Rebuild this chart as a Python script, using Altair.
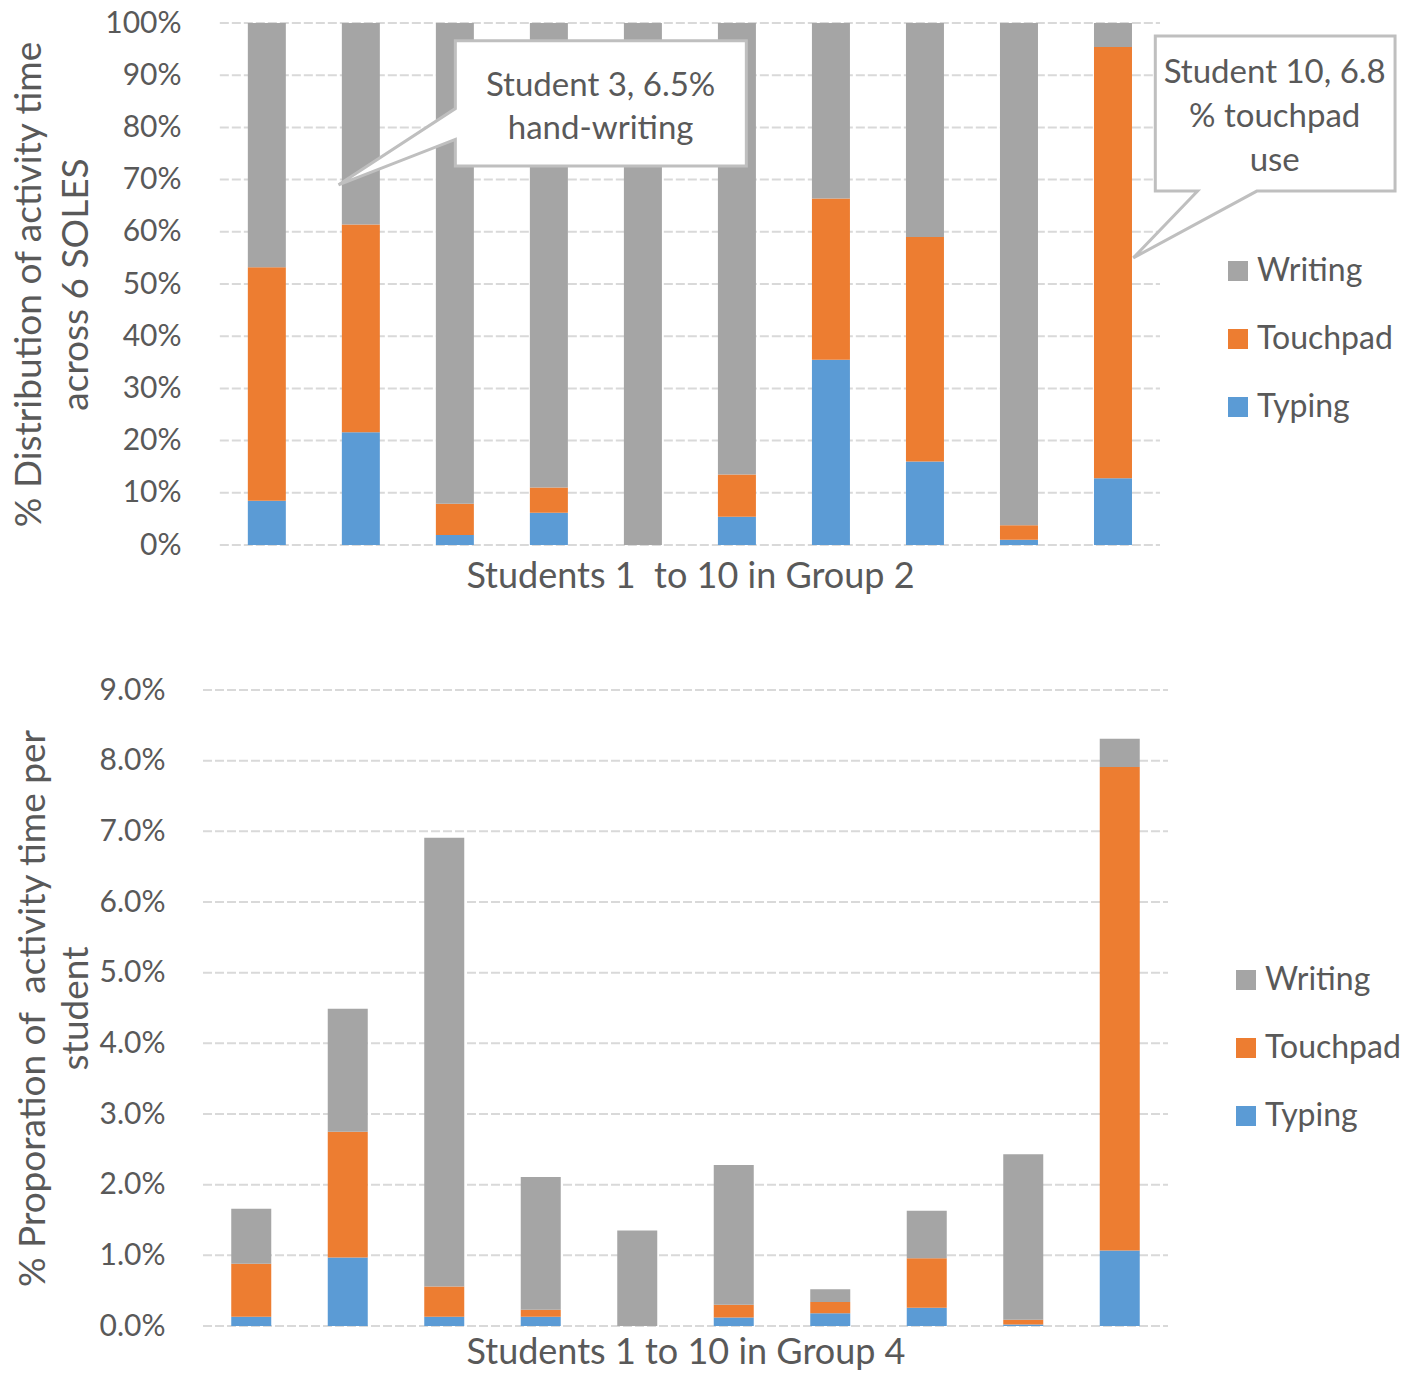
import altair as alt
import pandas as pd

# ---------------- data ----------------
students = list(range(1, 11))
series = ["Writing", "Touchpad", "Typing"]
series_colors = ["#A5A5A5", "#ED7D31", "#5B9BD5"]

# Group 2: % distribution of activity time across 6 SOLES (each bar sums to 100)
g2_typing = [8.5, 21.6, 1.9, 6.2, 0.0, 5.4, 35.5, 16.0, 1.0, 12.8]
g2_touchpad = [44.7, 39.8, 6.0, 4.8, 0.0, 8.1, 30.9, 43.0, 2.8, 82.6]
g2_writing = [46.8, 38.6, 92.1, 89.0, 100.0, 86.5, 33.6, 41.0, 96.2, 4.6]
g2_ticks = [0, 10, 20, 30, 40, 50, 60, 70, 80, 90, 100]

# Group 4: % proportion of activity time per student
g4_typing = [0.13, 0.97, 0.13, 0.13, 0.0, 0.12, 0.18, 0.26, 0.02, 1.07]
g4_touchpad = [0.75, 1.78, 0.43, 0.10, 0.0, 0.18, 0.16, 0.70, 0.07, 6.84]
g4_writing = [0.78, 1.74, 6.35, 1.88, 1.35, 1.98, 0.18, 0.67, 2.34, 0.40]
g4_ticks = [0, 1, 2, 3, 4, 5, 6, 7, 8, 9]

top_y_title = ["% Distribution of activity time", "across 6 SOLES"]
top_x_title = "Students 1\u00a0 to 10 in Group 2"
bot_y_title = ["% Proporation of\u00a0 activity time per", "student"]
bot_x_title = "Students 1 to 10 in Group 4"

# callouts (student units on x, percent on y)
callout_lines = [
    {"id": "c1", "x": 4.55, "y": 88.0, "text": "Student 3, 6.5%"},
    {"id": "c1", "x": 4.55, "y": 79.6, "text": "hand-writing"},
    {"id": "c2", "x": 11.72, "y": 90.4, "text": "Student 10, 6.8"},
    {"id": "c2", "x": 11.72, "y": 82.0, "text": "% touchpad"},
    {"id": "c2", "x": 11.72, "y": 73.6, "text": "use"},
]
c1_x = [3.005, 6.10, 6.10, 3.005, 3.005, 1.763, 3.005]
c1_y = [96.6, 96.6, 72.6, 72.6, 77.7, 69.0, 83.6]
c2_x = [10.45, 13.0, 13.0, 11.53, 10.216, 10.90, 10.45]
c2_y = [97.5, 97.5, 67.8, 67.8, 55.0, 67.8, 67.8]

FONT = "Lato"
TXT = "#595959"
GRID = "#D9D9D9"


def long_df(typ, tp, wr):
    rows = []
    for i, s in enumerate(students):
        for name, vals, o in (("Typing", typ, 0), ("Touchpad", tp, 1), ("Writing", wr, 2)):
            rows.append({"student": s, "series": name, "value": vals[i], "ord": o})
    return pd.DataFrame(rows)


def grid_df(ticks):
    return pd.DataFrame({"t": ticks, "x0": students[0] - 0.5, "x1": students[-1] + 0.5})


def legend(lx, ly):
    return alt.Legend(
        orient="none", legendX=lx, legendY=ly, title=None, symbolType="square",
        symbolSize=400, symbolStrokeWidth=0, labelFontSize=32, labelColor=TXT,
        labelFont=FONT, labelOffset=3, rowPadding=36, symbolOpacity=1,
    )


color_scale = alt.Scale(domain=series, range=series_colors)

# ---------------- top chart ----------------
TOP_W = 967
TOP_STEP = 95.0
top_xs = alt.Scale(domain=[0.5 - 17 / TOP_STEP, 10.5], zero=False, nice=False)
top_ys = alt.Scale(domain=[0, 100], zero=False, nice=False)

top_bars = alt.Chart(long_df(g2_typing, g2_touchpad, g2_writing)).mark_bar(size=38).encode(
    x=alt.X(
        "student:Q",
        scale=top_xs,
        axis=alt.Axis(
            labels=False, ticks=False, domain=False, grid=False,
            title=top_x_title, titleFontSize=36, titleColor=TXT, titleFontWeight="normal",
            titleFont=FONT, titlePadding=14, titleX=492,
        ),
    ),
    y=alt.Y(
        "value:Q",
        stack="zero",
        scale=top_ys,
        axis=alt.Axis(
            values=g2_ticks, labelExpr="datum.value + '%'", grid=False, domain=False,
            ticks=False, tickSize=0, labelPadding=17, labelFontSize=30, labelColor=TXT,
            labelFont=FONT, title=top_y_title, titleFontSize=37, titleColor=TXT,
            titleFont=FONT, titleFontWeight="normal", titlePadding=9, titleLineHeight=47,
        ),
    ),
    color=alt.Color("series:N", scale=color_scale, legend=legend(1024, 232)),
    order=alt.Order("ord:Q"),
)

top_grid = alt.Chart(grid_df(g2_ticks)).mark_rule(
    color=GRID, strokeWidth=2, strokeDash=[9, 3]
).encode(
    x=alt.X("x0:Q", scale=top_xs),
    x2="x1:Q",
    y=alt.Y("t:Q", scale=top_ys),
)

call_rows = []
for cid, xs, ys in (("c1", c1_x, c1_y), ("c2", c2_x, c2_y)):
    for i, (a, b) in enumerate(zip(xs, ys)):
        call_rows.append({"id": cid, "i": i, "cx": a, "cy": b})
call_df = pd.DataFrame(call_rows)

top_callouts = alt.Chart(call_df).mark_line(
    interpolate="linear-closed", fill="white", stroke="#BFBFBF", strokeWidth=3, clip=False
).encode(
    x=alt.X("cx:Q", scale=top_xs),
    y=alt.Y("cy:Q", scale=top_ys),
    order="i:Q",
    detail="id:N",
)

top_text = alt.Chart(pd.DataFrame(callout_lines)).mark_text(
    fontSize=33, color=TXT, font=FONT, align="center", baseline="middle"
).encode(
    x=alt.X("x:Q", scale=top_xs),
    y=alt.Y("y:Q", scale=top_ys),
    text="text:N",
)

top = alt.layer(top_grid, top_bars, top_callouts, top_text).properties(width=TOP_W, height=522)

# ---------------- bottom chart ----------------
bot_xs = alt.Scale(domain=[0.5, 10.5], zero=False, nice=False)
bot_ys = alt.Scale(domain=[0, 9], zero=False, nice=False)

bot_bars = alt.Chart(long_df(g4_typing, g4_touchpad, g4_writing)).mark_bar(size=40).encode(
    x=alt.X(
        "student:Q",
        scale=bot_xs,
        axis=alt.Axis(
            labels=False, ticks=False, domain=False, grid=False,
            title=bot_x_title, titleFontSize=36, titleColor=TXT, titleFontWeight="normal",
            titleFont=FONT, titlePadding=9,
        ),
    ),
    y=alt.Y(
        "value:Q",
        stack="zero",
        scale=bot_ys,
        axis=alt.Axis(
            values=g4_ticks, labelExpr="format(datum.value, '.1f') + '%'", grid=False,
            domain=False, ticks=False, tickSize=0, labelPadding=33, labelFontSize=30,
            labelColor=TXT, labelFont=FONT, title=bot_y_title, titleFontSize=37,
            titleColor=TXT, titleFont=FONT, titleFontWeight="normal", titlePadding=4,
            titleLineHeight=43,
        ),
    ),
    color=alt.Color("series:N", scale=color_scale, legend=legend(1032, 274)),
    order=alt.Order("ord:Q"),
)

bot_grid = alt.Chart(grid_df(g4_ticks)).mark_rule(
    color=GRID, strokeWidth=2, strokeDash=[9, 3]
).encode(
    x=alt.X("x0:Q", scale=bot_xs),
    x2="x1:Q",
    y=alt.Y("t:Q", scale=bot_ys),
)

bottom = alt.layer(bot_grid, bot_bars).properties(width=975, height=636)

chart = (
    alt.vconcat(top, bottom, spacing=81)
    .resolve_scale(color="independent", x="independent", y="independent")
    .resolve_legend(color="independent")
    .properties(padding={"top": 0, "left": 2, "right": 0, "bottom": 0}, background="white")
    .configure(font=FONT)
    .configure_view(strokeWidth=0, stroke=None)
)

chart.save("out.html", embed_options={"renderer": "svg", "actions": False})
